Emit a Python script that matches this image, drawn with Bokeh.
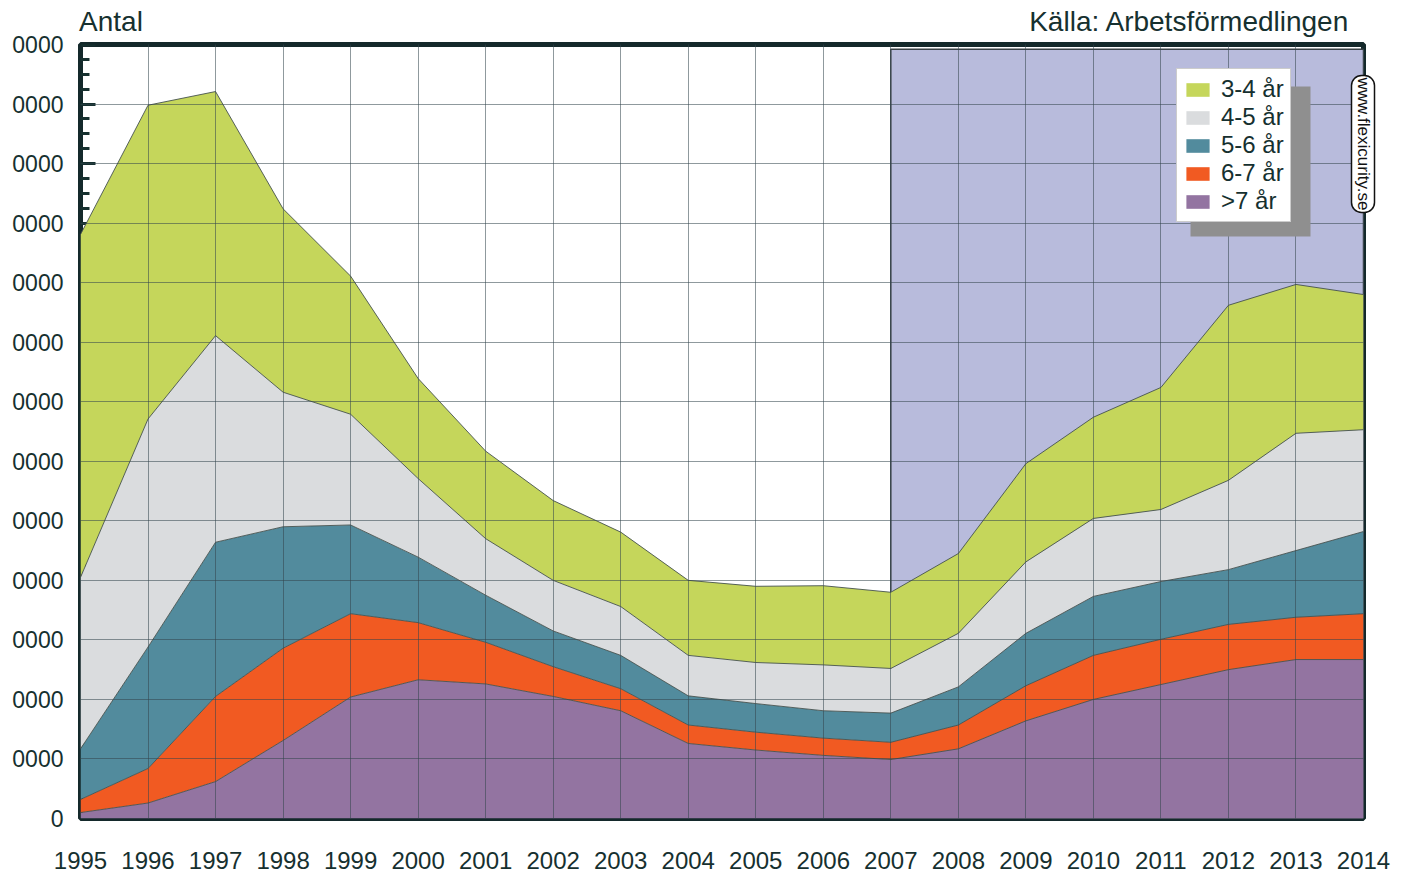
import math
from bokeh.plotting import figure
from bokeh.models import (Range1d, FixedTicker, Legend, LegendItem, Title,
                          BoxAnnotation, ColumnDataSource, LinearAxis)
from bokeh.embed import file_html
from bokeh.resources import INLINE

# ---------------- data ----------------
years = list(range(1995, 2015))
series_names = ["3-4 år", "4-5 år", "5-6 år", "6-7 år", ">7 år"]

y_3_4 = [57600, 52700, 41000, 30800, 23200, 16800, 14700, 13400, 12500, 12600,
         12800, 13300, 12800, 13400, 16500, 17000, 20500, 29400, 25000, 22700]
y_4_5 = [28800, 38300, 34700, 22600, 18600, 13200, 9500, 8500, 8200, 6800,
         6900, 7700, 7500, 9000, 12000, 13100, 12100, 15000, 19700, 17100]
y_5_6 = [8500, 20400, 25900, 20400, 14900, 11000, 7900, 6000, 5600, 4900,
         4800, 4600, 4900, 6400, 8800, 9900, 9700, 9200, 11200, 13800]
y_6_7 = [2200, 5800, 14300, 15500, 14000, 9600, 7000, 5000, 3700, 3100,
         3000, 2900, 2900, 4000, 5900, 7400, 7600, 7600, 7100, 7700]
y_gt7 = [1000, 2600, 6200, 13100, 20400, 23300, 22600, 20500, 18100, 12600,
         11500, 10600, 9900, 11700, 16400, 20000, 22500, 25000, 26700, 26700]

y_ticks = list(range(0, 130001, 10000))
y_minor_ticks = list(range(0, 130001, 2500))
y_tick_labels = ["0"] + ["0000"] * 13
x_tick_labels = [str(y) for y in years]

title_left = "Antal"
title_right = "Källa: Arbetsförmedlingen"
web_label = "www.flexicurity.se"

shade_start, shade_end, shade_top = 2007, 2014, 129200

colors = {"3-4 år": "#c5d65b", "4-5 år": "#dadcde", "5-6 år": "#528b9d",
          "6-7 år": "#f15a22", ">7 år": "#9374a1"}
shade_color = "#b8bbdc"
dark = "#16302f"
FONT = "Liberation Sans"

# ---------------- figure ----------------
FW, FH = 1283, 774
XMIN, XMAX, YMIN, YMAX = 1995, 2014, 0, 130000

def px_x(px):  # frame pixel (from frame left) -> data x
    return XMIN + px / FW * (XMAX - XMIN)

def px_y(py):  # frame pixel (from frame top) -> data y
    return YMAX - py / FH * (YMAX - YMIN)

p = figure(frame_width=FW, frame_height=FH,
           x_range=Range1d(XMIN, XMAX), y_range=Range1d(YMIN, YMAX),
           output_backend="svg", toolbar_location=None,
           min_border_left=80, min_border_right=40,
           min_border_top=44, min_border_bottom=56,
           background_fill_color="white", border_fill_color="white")

# shaded background region
p.quad(left=[shade_start], right=[shade_end], bottom=[0], top=[shade_top],
       fill_color=shade_color, line_color="#3a4246", line_width=1.5)

src = ColumnDataSource(dict(x=years, gt7=y_gt7, y67=y_6_7, y56=y_5_6,
                            y45=y_4_5, y34=y_3_4))
stackers = ["gt7", "y67", "y56", "y45", "y34"]
order = [">7 år", "6-7 år", "5-6 år", "4-5 år", "3-4 år"]
areas = p.varea_stack(stackers, x="x", source=src,
                      fill_color=[colors[n] for n in order])
p.vline_stack(stackers, x="x", source=src, line_color="#46524f",
              line_width=1, line_alpha=0.9)

# grid
p.xgrid.ticker = FixedTicker(ticks=years)
p.ygrid.ticker = FixedTicker(ticks=y_ticks)
for g in (p.xgrid, p.ygrid):
    g.grid_line_color = "#33464c"
    g.grid_line_alpha = 0.55
    g.grid_line_width = 1
    g.level = "guide"

# x axis (bottom)
xax = p.below[0]
xax.ticker = FixedTicker(ticks=years)
xax.major_label_overrides = {y: l for y, l in zip(years, x_tick_labels)}
xax.axis_line_color = None
xax.major_tick_line_color = None
xax.minor_tick_line_color = None
xax.major_label_text_font_size = "24px"
xax.major_label_text_font = FONT
xax.major_label_text_color = dark
xax.major_label_standoff = 27

# y axis: tick marks only (drawn beneath the areas)
yt = p.left[0]
yt.ticker = FixedTicker(ticks=y_ticks, minor_ticks=y_minor_ticks)
yt.axis_line_color = None
yt.major_tick_in = 15
yt.major_tick_out = 0
yt.minor_tick_in = 9
yt.minor_tick_out = 0
yt.major_tick_line_width = 3
yt.minor_tick_line_width = 3
yt.major_tick_line_color = dark
yt.minor_tick_line_color = dark
yt.major_label_overrides = {t: "" for t in y_ticks}
yt.major_label_standoff = 0
yt.level = "underlay"

# y axis: labels
yl = LinearAxis(ticker=FixedTicker(ticks=y_ticks),
                major_label_overrides={t: l for t, l in zip(y_ticks, y_tick_labels)},
                axis_line_color=None, major_tick_line_color=None,
                minor_tick_line_color=None,
                major_label_text_font_size="23px", major_label_text_font=FONT,
                major_label_text_color=dark, major_label_standoff=11)
p.add_layout(yl, "left")

p.outline_line_color = "#14292b"
p.outline_line_width = 5
p.outline_line_alpha = 1

# header texts, placed as labels of a tick-less top axis
head_x = [px_x(30.5), px_x(1109)]
top_ax = LinearAxis(ticker=FixedTicker(ticks=head_x),
                    major_label_overrides={head_x[0]: title_left,
                                           head_x[1]: title_right},
                    axis_line_color=None, major_tick_line_color=None,
                    minor_tick_line_color=None,
                    major_label_text_font_size="28px",
                    major_label_text_font=FONT,
                    major_label_text_color=dark, major_label_standoff=2)
p.add_layout(top_ax, "above")

# legend shadow + legend
p.add_layout(BoxAnnotation(left=px_x(1110), right=px_x(1230),
                           top=px_y(42), bottom=px_y(192),
                           fill_color="#8f8f8f", fill_alpha=1,
                           line_color=None))
items = [LegendItem(label=n, renderers=[areas[order.index(n)]])
         for n in series_names]
legend = Legend(items=items, location=(1096, 596),
                label_text_font=FONT, label_text_font_size="24px",
                label_text_color=dark, glyph_width=29, glyph_height=17,
                label_height=26, spacing=0, padding=6, margin=0,
                label_standoff=9,
                border_line_color="#9a9a9a", border_line_width=1,
                background_fill_color="white", background_fill_alpha=1)
p.add_layout(legend)

# vertical web label on the right side
p.add_layout(Title(text=web_label, align="left", offset=31, standoff=-24,
                   vertical_align="bottom",
                   text_font=FONT, text_font_size="17px",
                   text_font_style="normal", text_color="#111111",
                   background_fill_color="white", background_fill_alpha=1,
                   border_line_color="#111111", border_line_width=1.5,
                   padding=2, border_radius=10), "right")

open("out.html", "w").write(file_html(p, INLINE))
